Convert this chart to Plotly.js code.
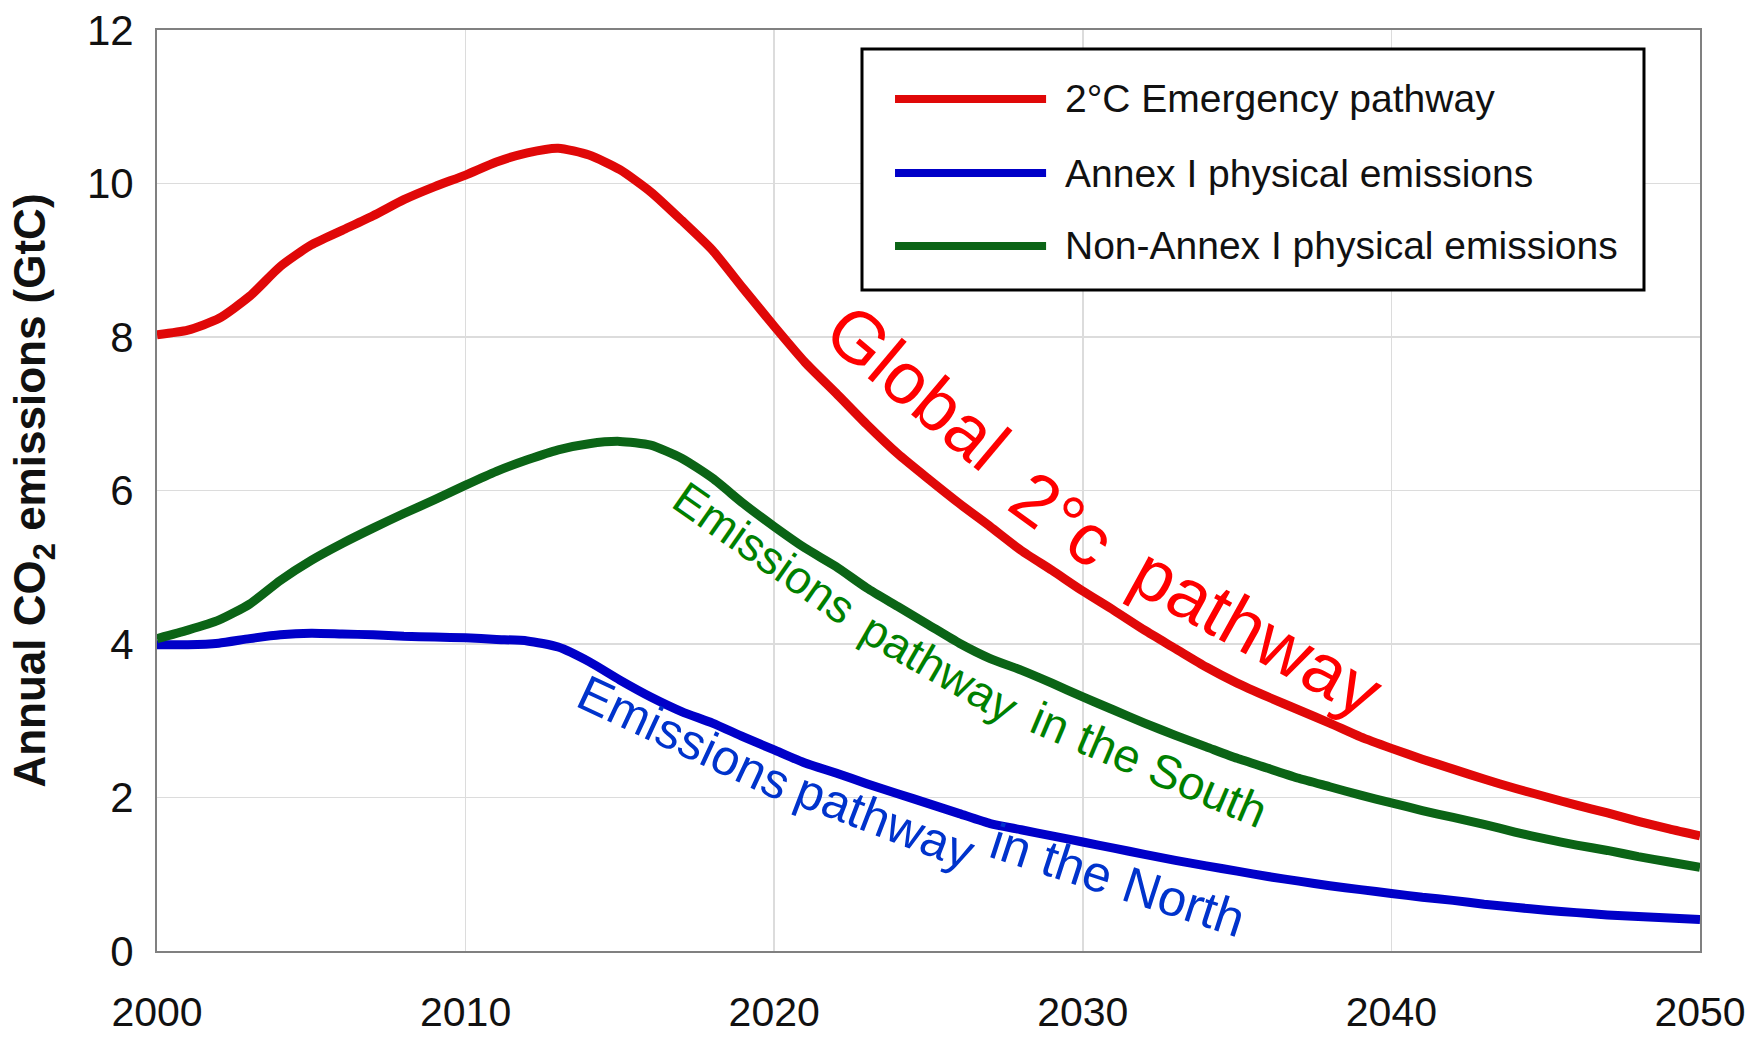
<!DOCTYPE html>
<html>
<head>
<meta charset="utf-8">
<script src="https://cdn.plot.ly/plotly-3.0.1.min.js"></script>
<style>html,body{margin:0;padding:0;background:#fff;}#chart{width:1760px;height:1037px;}</style>
</head>
<body>
<div id="chart"></div>
<script>
const years = [2000,2001,2002,2003,2004,2005,2006,2007,2008,2009,2010,2011,2012,2013,2014,2015,2016,2017,2018,2019,2020,2021,2022,2023,2024,2025,2026,2027,2028,2029,2030,2031,2032,2033,2034,2035,2036,2037,2038,2039,2040,2041,2042,2043,2044,2045,2046,2047,2048,2049,2050];

const emergency = [8.03,8.09,8.24,8.53,8.92,9.20,9.39,9.58,9.79,9.96,10.11,10.28,10.40,10.46,10.37,10.18,9.89,9.52,9.13,8.63,8.14,7.67,7.27,6.86,6.48,6.15,5.83,5.53,5.22,4.96,4.69,4.44,4.18,3.94,3.70,3.49,3.31,3.14,2.97,2.79,2.64,2.50,2.37,2.24,2.12,2.01,1.90,1.80,1.69,1.59,1.50];

const annexI = [3.99,3.99,4.01,4.07,4.12,4.14,4.13,4.12,4.10,4.09,4.08,4.06,4.04,3.96,3.77,3.53,3.31,3.12,2.97,2.79,2.62,2.45,2.32,2.18,2.05,1.92,1.79,1.66,1.58,1.50,1.42,1.34,1.26,1.18,1.11,1.04,0.97,0.91,0.85,0.80,0.75,0.70,0.66,0.61,0.57,0.53,0.50,0.47,0.45,0.43,0.41];

const nonAnnexI = [4.07,4.18,4.31,4.52,4.83,5.09,5.31,5.51,5.70,5.88,6.07,6.25,6.40,6.53,6.61,6.64,6.59,6.42,6.16,5.83,5.53,5.25,5.01,4.73,4.49,4.25,4.01,3.81,3.66,3.49,3.31,3.14,2.97,2.81,2.66,2.51,2.38,2.25,2.14,2.03,1.93,1.83,1.74,1.65,1.55,1.46,1.38,1.31,1.23,1.16,1.09];

const seriesNames = ["2°C Emergency pathway", "Annex I physical emissions", "Non-Annex I physical emissions"];
const lineColors = ["#e00808", "#0000c8", "#0b6416"];

const xTicks = [2000, 2010, 2020, 2030, 2040, 2050];
const yTicks = [0, 2, 4, 6, 8, 10, 12];

// curved labels, split into words
const labelWords = [
  {text: "Global", x: 2024.63, y: 7.35, angle: 40, color: "#ff0000", size: 73},
  {text: "2°c", x: 2029.35, y: 5.64, angle: 36, color: "#ff0000", size: 73},
  {text: "pathway", x: 2035.65, y: 4.16, angle: 29, color: "#ff0000", size: 73},
  {text: "Emissions", x: 2019.70, y: 5.19, angle: 35, color: "#008000", size: 46},
  {text: "pathway", x: 2025.37, y: 3.69, angle: 30, color: "#008000", size: 46},
  {text: "in the South", x: 2032.15, y: 2.43, angle: 23, color: "#008000", size: 47},
  {text: "Emissions", x: 2017.08, y: 2.77, angle: 25, color: "#0033cc", size: 50},
  {text: "pathway", x: 2023.60, y: 1.70, angle: 21, color: "#0033cc", size: 50},
  {text: "in the North", x: 2031.15, y: 0.92, angle: 18, color: "#0033cc", size: 51}
];

const FONT = "Liberation Sans, Arial, Helvetica, sans-serif";

const seriesData = [emergency, annexI, nonAnnexI];
const traces = seriesData.map((vals, i) => ({
  type: "scatter",
  mode: "lines",
  x: years,
  y: vals,
  name: seriesNames[i],
  line: {color: lineColors[i], width: 9, shape: "spline", smoothing: 0.6},
  showlegend: false,
  hoverinfo: "x+y+name"
}));

// custom legend box (paper coords)
const legX0 = 0.4569, legX1 = 0.9637, legY0 = 0.7177, legY1 = 0.9794;
const legRowsY = [0.9251, 0.8447, 0.7655];
const shapes = [{
  type: "rect", xref: "paper", yref: "paper",
  x0: legX0, x1: legX1, y0: legY0, y1: legY1,
  line: {color: "#000", width: 3}, fillcolor: "#fff", layer: "above"
}];
const annotations = [];
seriesNames.forEach((n, i) => {
  shapes.push({type: "line", xref: "paper", yref: "paper", x0: 0.4783, x1: 0.5762, y0: legRowsY[i], y1: legRowsY[i],
    line: {color: lineColors[i], width: 8}, layer: "above"});
  annotations.push({xref: "paper", yref: "paper", x: 0.5872, y: legRowsY[i], xanchor: "left", yanchor: "middle",
    text: n, showarrow: false, font: {family: FONT, size: 39, color: "#111"}});
});
labelWords.forEach(w => {
  annotations.push({xref: "x", yref: "y", x: w.x, y: w.y, text: w.text, textangle: w.angle,
    showarrow: false, xanchor: "center", yanchor: "middle",
    font: {family: FONT, size: w.size, color: w.color}});
});

const layout = {
  width: 1760, height: 1037,
  margin: {l: 157, r: 60, t: 30, b: 86},
  paper_bgcolor: "#fff", plot_bgcolor: "#fff",
  font: {family: FONT, color: "#111"},
  xaxis: {
    range: [2000, 2050], tickvals: xTicks, ticktext: xTicks.map(String),
    showgrid: true, gridcolor: "#dcdcdc", gridwidth: 1.5,
    showline: true, linecolor: "#808080", linewidth: 2, mirror: true,
    zeroline: false, ticks: "", ticklabelstandoff: 24,
    tickfont: {family: FONT, size: 41, color: "#111"}
  },
  yaxis: {
    range: [0, 12], tickvals: yTicks, ticktext: yTicks.map(String),
    showgrid: true, gridcolor: "#dcdcdc", gridwidth: 1.5,
    showline: true, linecolor: "#808080", linewidth: 2, mirror: true,
    zeroline: false, ticks: "", ticklabelstandoff: 13,
    tickfont: {family: FONT, size: 42, color: "#111"},
    title: {text: "Annual CO<sub>2</sub> emissions (GtC)", standoff: 27,
      font: {family: FONT, size: 44, color: "#111", weight: "bold"}}
  },
  shapes: shapes,
  annotations: annotations,
  showlegend: false
};

Plotly.newPlot("chart", traces, layout, {displayModeBar: false, staticPlot: true});
</script>
</body>
</html>
